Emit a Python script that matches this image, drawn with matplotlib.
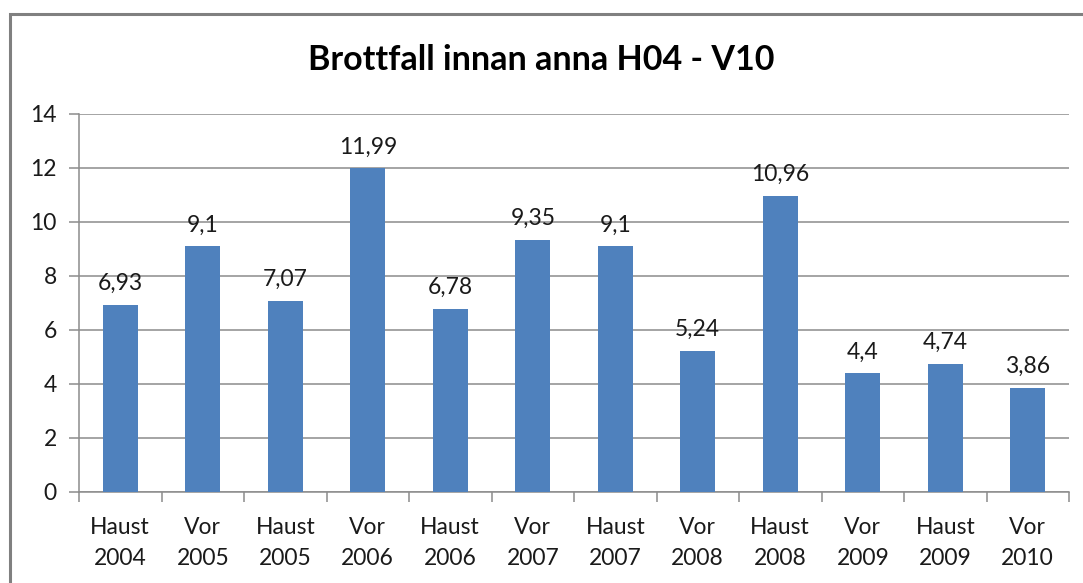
import numpy as np
import matplotlib
matplotlib.use("Agg")
from matplotlib import pyplot as plt
from matplotlib.patches import Rectangle

categories = ["Haust\n2004", "Vor\n2005", "Haust\n2005", "Vor\n2006", "Haust\n2006", "Vor\n2007",
              "Haust\n2007", "Vor\n2008", "Haust\n2008", "Vor\n2009", "Haust\n2009", "Vor\n2010"]
values = [6.93, 9.1, 7.07, 11.99, 6.78, 9.35, 9.1, 5.24, 10.96, 4.4, 4.74, 3.86]
labels = ["6,93", "9,1", "7,07", "11,99", "6,78", "9,35", "9,1", "5,24", "10,96", "4,4", "4,74", "3,86"]
yticks = [0, 2, 4, 6, 8, 10, 12, 14]

plt.rcParams['font.family'] = ['Lato', 'DejaVu Sans']

fig = plt.figure(figsize=(10.83, 5.83), dpi=100)
fig.set_facecolor("white")

# outer chart border (cropped on right and bottom)
fig.patches.append(Rectangle((10 / 1083, -0.05), 1.1, 1 - 14 / 583 + 0.05, transform=fig.transFigure,
                             fill=False, edgecolor="#808080", linewidth=2.2))

ax = fig.add_axes([79 / 1083, 1 - 492 / 583, (1069 - 79) / 1083, (492 - 114) / 583])
x = np.arange(len(values))
ax.bar(x, values, width=0.42, color="#4F81BD", zorder=3)

for xi, v, lab in zip(x, values, labels):
    ax.text(xi, v + 0.4, lab, ha="center", va="bottom", fontsize=16.5, color="#1a1a1a")

ax.set_xlim(-0.5, len(values) - 0.5)
ax.set_ylim(0, 14)
ax.set_yticks(yticks)
ax.set_yticklabels([str(t) for t in yticks])
ax.yaxis.grid(True, color="#8c8c8c", linewidth=1.1, zorder=0)

ax.set_xticks(x)
ax.set_xticklabels(categories, fontsize=16.5, linespacing=1.6, color="#1a1a1a")
ax.set_xticks(np.arange(-0.5, len(values)), minor=True)
ax.tick_params(axis="x", which="major", length=0, pad=18)
ax.tick_params(axis="x", which="minor", length=7, color="#8c8c8c", width=1.1)
ax.tick_params(axis="y", length=7, color="#8c8c8c", width=1.1, labelsize=16.5, pad=9,
               labelcolor="#1a1a1a")

for side in ["top", "right"]:
    ax.spines[side].set_visible(False)
for side in ["left", "bottom"]:
    ax.spines[side].set_color("#8c8c8c")
    ax.spines[side].set_linewidth(1.1)

fig.text(0.5, 1 - 60 / 583, "Brottfall innan anna H04 - V10", ha="center", va="center",
         fontsize=24.5, fontweight="bold", color="black")

fig.savefig("out.png", dpi=100)
